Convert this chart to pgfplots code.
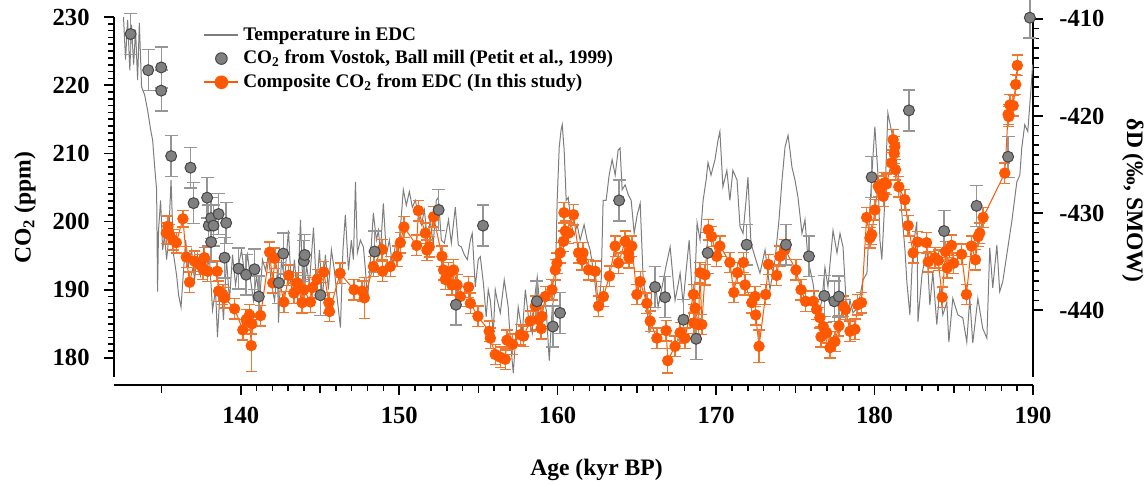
\documentclass[border=0pt]{standalone}
\usepackage{pgfplots}
\pgfplotsset{compat=1.18}
\usepackage{pgfplotstable}
\usepackage{fontspec}
\setmainfont{Liberation Serif}
\definecolor{eorange}{RGB}{255,88,0}
\definecolor{eorangebar}{RGB}{238,120,50}
\definecolor{vgray}{RGB}{128,128,128}
\definecolor{vgrayedge}{RGB}{70,70,70}
\definecolor{tgray}{RGB}{125,125,125}
\definecolor{gbar}{RGB}{150,150,150}

\pgfplotstableread{
age dD
132.60 -409.8
132.73 -414.2
132.86 -410.1
133.00 -415.3
133.10 -410.6
133.24 -414.7
133.36 -411.1
133.49 -416.3
133.60 -410.4
133.74 -417.0
133.93 -417.8
134.12 -419.4
134.31 -421.4
134.44 -422.5
134.56 -425.1
134.69 -427.6
134.75 -438.1
134.81 -431.8
134.94 -428.7
135.07 -433.8
135.19 -432.3
135.32 -434.8
135.44 -432.8
135.60 -426.6
135.76 -434.3
135.95 -436.4
136.08 -438.5
136.23 -439.7
136.39 -435.9
136.52 -432.8
136.70 -435.4
136.90 -433.8
137.08 -436.9
137.27 -434.3
137.46 -436.4
137.65 -433.8
137.84 -435.9
138.03 -434.8
138.22 -440.0
138.41 -437.9
138.53 -442.8
138.66 -439.0
138.79 -437.9
138.91 -441.0
139.10 -434.8
139.29 -439.0
139.48 -434.3
139.67 -437.4
139.86 -435.4
140.05 -433.8
140.24 -436.4
140.43 -434.3
140.62 -436.9
140.80 -439.0
141.00 -436.4
141.18 -439.3
141.37 -434.8
141.56 -435.9
141.75 -434.3
141.94 -437.4
142.13 -439.0
142.32 -435.9
142.38 -441.3
142.57 -434.8
142.76 -436.9
143.01 -431.8
143.20 -437.9
143.39 -434.8
143.58 -439.0
143.77 -430.7
143.96 -439.5
144.15 -435.4
144.33 -437.4
144.59 -431.5
144.78 -437.9
144.97 -433.8
145.15 -439.0
145.34 -434.3
145.53 -437.9
145.72 -433.8
145.91 -435.9
146.10 -439.0
146.29 -441.8
146.45 -433.8
146.60 -430.2
146.80 -435.9
146.98 -432.8
147.11 -434.8
147.24 -426.8
147.36 -434.1
147.55 -432.8
147.74 -433.5
147.87 -435.9
148.00 -439.0
148.18 -434.8
148.37 -430.0
148.56 -432.8
148.69 -431.8
148.81 -434.1
149.00 -429.0
149.19 -434.3
149.38 -432.8
149.57 -435.4
149.76 -433.3
149.95 -433.8
150.14 -430.2
150.26 -427.6
150.45 -429.2
150.64 -427.8
150.83 -429.4
151.02 -428.7
151.21 -430.2
151.40 -431.2
151.59 -429.7
151.78 -432.8
151.96 -430.7
152.15 -433.3
152.34 -428.7
152.47 -428.4
152.66 -432.8
152.85 -433.1
153.11 -430.7
153.29 -433.1
153.54 -429.4
153.73 -433.3
153.92 -433.5
154.11 -434.3
154.30 -434.8
154.49 -432.8
154.61 -432.1
154.80 -437.6
154.99 -434.8
155.12 -434.5
155.31 -437.2
155.49 -440.7
155.62 -437.9
155.75 -439.0
155.94 -442.4
156.06 -437.9
156.19 -439.0
156.38 -440.3
156.63 -436.9
156.88 -439.7
157.01 -443.1
157.20 -446.5
157.32 -443.6
157.51 -439.7
157.77 -442.4
157.96 -437.9
158.14 -440.5
158.40 -442.4
158.53 -439.0
158.71 -436.6
158.90 -440.0
159.09 -438.5
159.28 -440.0
159.47 -445.2
159.66 -439.7
159.85 -437.9
159.97 -428.7
160.10 -423.2
160.22 -421.4
160.29 -420.9
160.41 -423.5
160.54 -428.7
160.67 -428.4
160.86 -431.2
161.04 -432.3
161.23 -431.2
161.42 -432.8
161.67 -431.2
161.86 -432.8
162.05 -433.8
162.30 -436.4
162.56 -440.3
162.75 -436.9
162.87 -428.7
163.06 -428.7
163.25 -426.1
163.44 -424.5
163.63 -426.1
163.82 -423.5
163.94 -423.3
164.07 -427.6
164.26 -427.1
164.45 -428.1
164.64 -428.7
164.83 -432.1
165.02 -430.2
165.21 -429.0
165.40 -436.9
165.59 -439.0
165.77 -442.4
165.96 -437.4
166.15 -436.9
166.34 -439.7
166.59 -437.6
166.85 -435.4
167.10 -433.5
167.29 -436.9
167.41 -439.0
167.60 -437.4
167.73 -436.2
167.92 -439.3
168.11 -435.9
168.30 -432.8
168.48 -437.9
168.61 -439.7
168.80 -431.0
168.99 -432.8
169.18 -428.7
169.37 -426.6
169.49 -424.8
169.68 -426.1
169.93 -424.5
170.12 -422.5
170.24 -421.6
170.43 -427.3
170.68 -425.6
170.87 -428.7
171.06 -425.6
171.32 -426.6
171.51 -431.4
171.70 -432.1
171.89 -428.7
172.01 -426.3
172.20 -433.1
172.45 -434.5
172.77 -436.2
173.09 -433.8
173.40 -437.9
173.72 -434.8
173.97 -430.7
174.16 -426.6
174.35 -423.2
174.54 -422.0
174.66 -423.5
174.79 -425.3
174.98 -426.6
175.17 -428.4
175.42 -432.1
175.61 -430.7
175.80 -434.8
176.11 -437.2
176.43 -440.7
176.68 -439.0
176.87 -435.6
177.06 -437.6
177.38 -431.8
177.63 -434.1
177.82 -432.1
178.01 -433.5
178.26 -440.7
178.45 -439.0
178.64 -440.3
178.95 -439.7
179.27 -436.9
179.52 -436.2
179.71 -429.4
179.90 -424.2
180.02 -421.1
180.21 -425.9
180.34 -432.8
180.46 -434.8
180.65 -428.7
180.84 -419.7
181.10 -421.8
181.28 -423.3
181.54 -426.6
181.73 -430.2
181.92 -433.8
182.04 -437.1
182.23 -440.5
182.42 -433.6
182.67 -430.9
182.74 -441.2
182.99 -436.4
183.30 -433.6
183.49 -439.5
183.68 -436.1
183.93 -441.5
184.12 -437.7
184.31 -440.5
184.56 -439.2
184.69 -443.3
184.94 -438.8
185.26 -440.5
185.57 -440.8
185.82 -443.3
186.01 -438.8
186.20 -443.4
186.52 -438.8
186.83 -441.9
187.09 -442.9
187.27 -433.6
187.46 -437.7
187.72 -433.3
187.90 -438.1
188.09 -437.1
188.41 -433.6
188.66 -430.9
188.98 -426.8
189.17 -426.1
189.29 -423.3
189.48 -420.9
189.67 -421.6
189.86 -417.5
189.98 -414.7
}\tempdata

\pgfplotstableread{
age co2 err
133.05 227.5 3
134.16 222.2 3
134.98 222.6 3
134.98 219.2 3
135.61 209.6 3
136.83 207.9 3
137.02 202.7 3
137.88 203.5 3
137.98 199.4 3
138.13 200.5 3
138.13 197.0 3
138.28 199.4 3
138.60 201.1 3
138.98 194.7 3
139.08 199.8 3
139.86 193.1 3
140.34 192.2 3
140.87 193.0 3
141.14 189.0 3
142.40 191.0 3
142.68 195.3 3
143.98 194.2 3
144.04 195.1 3
145.03 189.2 3
148.45 195.6 3
152.49 201.7 3
153.58 187.8 3
155.29 199.4 3
158.69 188.3 3
159.70 184.6 3
160.15 186.6 3
163.88 203.1 3
166.15 190.4 3
166.78 188.9 3
167.94 185.6 3
168.74 182.8 3
169.47 195.4 3
171.93 196.6 3
174.41 196.6 3
175.86 194.9 3
176.83 189.1 3
177.46 188.3 3
177.75 189.0 3
179.82 206.5 3
182.17 216.3 3
184.39 198.6 3
186.44 202.3 3
188.43 209.5 3
189.80 229.9 3
}\vostok

\pgfplotstableread{
age co2 err
135.30 198.3 1.5
135.40 199.3 1.5
135.50 198.1 1.5
135.72 197.3 1.5
135.93 196.9 1.5
136.35 200.4 1.2
136.56 194.8 1.5
136.77 191.1 1.5
137.08 194.2 1.5
137.40 193.7 1.5
137.61 193.0 1.5
137.71 194.7 1.5
137.92 192.7 1.5
138.51 192.7 1.5
138.60 189.8 1.5
138.87 189.3 1.5
138.98 188.8 1.5
139.61 187.2 1.5
140.13 184.1 1.5
140.34 185.6 1.5
140.55 186.3 1.5
140.66 181.8 3.8
140.70 185.0 1.5
141.25 186.2 1.5
141.82 195.5 1.5
142.02 191.0 1.5
142.15 194.6 1.5
142.72 188.2 1.5
143.03 192.1 1.5
143.35 189.5 1.5
143.56 191.0 1.5
143.87 188.1 1.5
143.98 190.0 1.5
144.40 188.2 1.5
144.51 190.3 1.5
144.82 191.5 1.5
145.24 192.6 1.5
145.56 188.1 1.5
145.60 186.8 1.5
146.27 192.4 1.5
147.15 190.0 1.5
147.66 189.8 1.5
147.80 188.8 3.0
148.37 193.4 1.5
148.92 195.9 1.5
148.95 192.7 1.5
149.44 193.4 1.5
149.87 194.9 1.5
150.07 196.9 1.5
150.30 199.2 1.5
151.10 196.5 1.5
151.21 201.6 1.5
151.65 198.3 1.5
151.75 195.8 1.5
151.90 196.3 1.5
152.17 200.7 1.5
152.70 194.9 1.5
152.80 192.9 1.5
152.91 191.5 1.5
153.12 192.5 1.5
153.33 190.7 1.5
153.43 192.9 1.5
153.65 190.7 1.5
153.86 189.0 1.5
154.38 190.4 1.5
154.49 188.0 1.5
154.97 186.1 1.5
155.68 183.9 1.5
155.75 182.9 1.5
156.06 180.5 1.5
156.38 180.1 1.5
156.69 179.8 1.5
156.80 182.6 1.5
157.16 182.0 1.5
157.64 183.4 1.5
157.85 183.2 1.5
158.27 185.4 1.5
158.59 187.6 1.5
158.80 185.6 1.5
158.96 184.3 1.5
159.01 186.1 1.5
159.22 189.0 1.5
159.64 190.0 1.5
159.85 192.9 1.5
159.96 193.9 1.5
160.16 195.4 1.5
160.37 197.1 1.5
160.40 201.3 1.5
160.48 198.6 1.5
160.69 198.3 1.5
161.00 201.0 1.5
161.32 195.4 1.5
161.53 194.4 1.5
161.60 195.4 1.5
161.95 192.9 1.5
162.37 192.7 1.5
162.58 187.6 1.5
162.89 189.0 1.5
163.27 192.0 1.5
163.63 196.4 1.5
163.84 193.9 1.5
164.26 197.1 1.5
164.47 195.4 1.5
164.50 194.7 1.5
164.68 196.4 1.5
165.00 189.3 1.5
165.21 191.2 1.5
165.63 188.0 1.5
165.84 185.4 1.5
166.26 182.9 1.5
166.85 184.0 1.5
166.95 179.6 1.8
167.41 181.7 1.5
167.73 183.7 1.5
168.04 182.9 1.5
168.57 189.3 1.5
168.60 185.1 1.5
168.68 187.3 1.5
168.88 184.9 1.5
168.99 192.5 1.5
169.10 184.9 1.5
169.30 192.2 1.5
169.51 198.8 1.5
169.72 197.8 1.5
170.04 194.9 1.5
170.24 196.4 1.5
170.87 194.0 1.5
171.12 189.6 1.5
171.35 192.5 1.5
171.72 194.0 1.5
171.83 190.7 1.5
172.25 188.1 1.5
172.46 189.0 1.5
172.50 186.3 1.5
172.71 181.7 2.4
173.13 189.3 1.5
173.30 193.7 1.5
173.82 192.1 1.5
174.03 194.9 1.5
174.35 195.9 1.5
175.04 192.9 1.5
175.36 190.0 1.5
175.65 188.3 1.5
176.13 188.3 1.5
176.35 187.1 1.5
176.55 185.9 1.5
176.62 183.1 1.5
176.76 184.6 1.5
176.98 183.7 1.5
177.19 181.5 1.5
177.50 182.4 1.5
177.75 184.7 1.5
178.02 187.6 1.5
178.17 187.1 1.5
178.45 183.9 1.5
178.76 184.2 1.5
178.93 187.8 1.5
179.18 188.1 1.5
179.50 200.6 1.5
179.71 197.6 1.5
179.82 198.1 1.5
180.02 201.7 1.5
180.23 205.2 1.5
180.34 204.7 1.5
180.55 203.7 1.5
180.65 205.7 1.5
180.75 205.5 1.5
181.07 208.6 1.5
181.17 212.0 1.5
181.24 210.0 1.5
181.28 211.0 1.5
181.32 207.6 1.5
181.53 205.1 1.5
181.91 203.2 1.5
182.12 199.4 1.5
182.44 195.4 1.5
182.71 197.0 1.5
183.28 196.9 1.5
183.39 194.1 1.5
183.81 194.7 1.5
184.02 194.3 1.5
184.27 188.9 1.5
184.48 195.6 1.5
184.58 193.2 1.5
184.86 196.5 1.5
185.00 193.9 1.5
185.49 195.2 1.5
185.80 189.3 1.5
186.12 196.4 1.5
186.37 194.4 1.5
186.54 197.8 1.5
186.64 198.3 1.5
186.85 200.6 1.5
188.22 207.1 1.5
188.43 215.7 1.5
188.47 215.4 1.5
188.54 217.1 1.5
188.75 217.0 1.5
188.91 220.1 1.5
189.01 222.9 1.5
}\edc

\pgfplotsset{
  common/.style={
    scale only axis, width=459.5pt, height=180pt,
    xmin=132, xmax=190, clip=false,
    tick align=outside,
    major tick length=5pt, minor tick length=3pt,
    every tick/.style={black, line width=0.8pt},
    /pgf/number format/assume math mode=true,
    tick label style={font=\fontsize{12.3}{14}\selectfont\bfseries},
    label style={font=\fontsize{11.8}{14}\selectfont\bfseries},
    axis line style={line width=1pt},
  }
}

\begin{document}
\begin{tikzpicture}
% temperature (right axis)
\begin{axis}[common,
  ymin=-446.9, ymax=-409.8,
  axis y line*=right, axis x line=none,
  ytick={-440,-430,-420,-410}, minor y tick num=9,
  yticklabel style={anchor=west, inner sep=0pt, xshift=8pt},
  ylabel={δD (‰, SMOW)},
  ylabel style={at={(axis description cs:1.1088,0.49)}, anchor=center, rotate=180},
]
\addplot[tgray, line width=0.5pt, no markers, forget plot] table[x=age, y=dD] {\tempdata};
\end{axis}
% CO2 (left axis)
\begin{axis}[common,
  ymin=177.2, ymax=230,
  axis y line*=left, axis x line=none,
  ytick={180,190,...,230}, minor y tick num=9,
  yticklabel style={anchor=east, inner sep=0pt, xshift=-7pt},
  ylabel={CO\textsubscript{2} (ppm)},
  ylabel style={at={(axis description cs:-0.0968,0.47)}, anchor=center},
  legend style={at={(axis description cs:0.097,0.985)}, anchor=north west,
    draw=none, fill=none, inner sep=0pt, row sep=-0.4pt,
    font=\fontsize{9.6}{11}\selectfont\bfseries},
  legend cell align=left,
]
\addlegendimage{tgray, line width=0.8pt, no markers}
\addlegendentry{Temperature in EDC}
\addlegendimage{only marks, mark=*, mark size=2.9pt, mark options={fill=vgray, draw=vgrayedge, line width=0.5pt}}
\addlegendentry{CO\textsubscript{2} from Vostok, Ball mill (Petit et al., 1999)}
\addlegendimage{eorange, line width=0.8pt, mark=*, mark size=3pt, mark options={fill=eorange, draw=eorange}}
\addlegendentry{Composite CO\textsubscript{2} from EDC (In this study)}

\addplot[forget plot, eorange, line width=0.5pt, mark=*, mark size=2.6pt,
  mark options={fill=eorange, draw=eorange},
  error bars/.cd, y dir=both, y explicit,
  error bar style={eorangebar, line width=0.7pt},
  error mark options={rotate=90, eorangebar, mark size=2.8pt, line width=0.7pt}]
  table[x=age, y=co2, y error=err] {\edc};
\addplot[forget plot, only marks, mark=*, mark size=2.75pt,
  mark options={fill=vgray, draw=vgrayedge, line width=0.5pt},
  error bars/.cd, y dir=both, y explicit,
  error bar style={gbar, line width=0.7pt},
  error mark options={rotate=90, gbar, mark size=3.2pt, line width=0.7pt}]
  table[x=age, y=co2, y error=err] {\vostok};
\end{axis}
% x axis, slightly below
\begin{axis}[common,
  at={(0pt,-4pt)}, anchor=south west,
  ymin=0, ymax=1,
  axis x line*=bottom, axis y line=none,
  xtick={140,150,...,190}, minor x tick num=9,
  extra x ticks={135,145,155,165,175,185}, extra x tick labels={},
  extra x tick style={major tick length=4pt},
  xticklabel style={anchor=center, inner sep=0pt, yshift=-10pt},
  xlabel={Age (kyr BP)},
  xlabel style={at={(axis description cs:0.525,-0.235)}, anchor=center},
]
\end{axis}
\pgfresetboundingbox
\useasboundingbox (-57pt,-54.5pt) rectangle (517pt,188.5pt);
\end{tikzpicture}
\end{document}
